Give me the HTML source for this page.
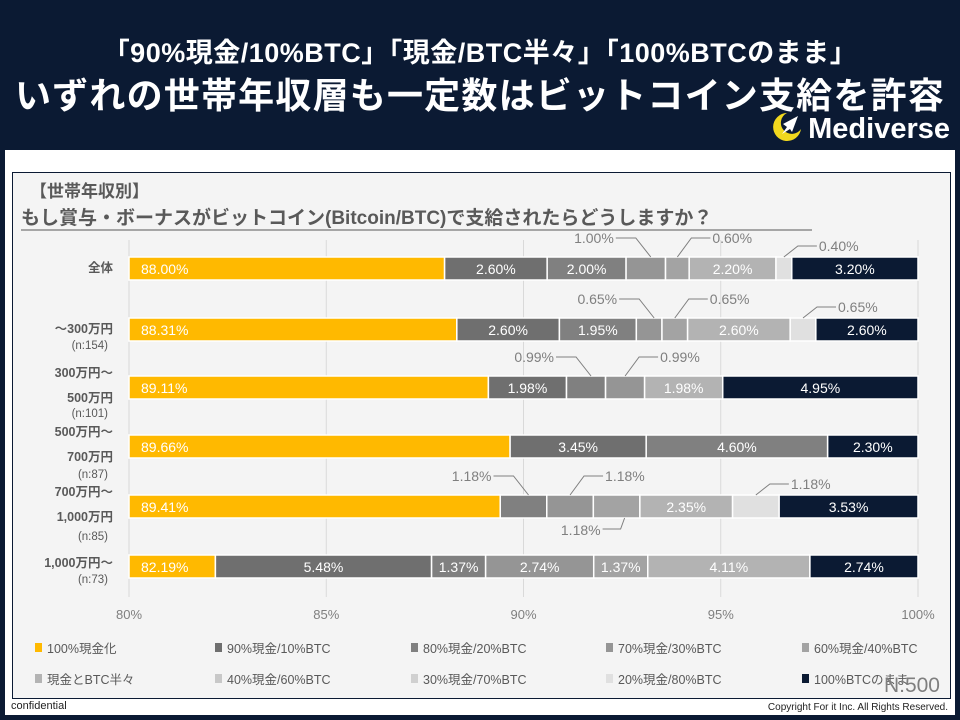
<!DOCTYPE html>
<html><head><meta charset="utf-8">
<style>
*{margin:0;padding:0;box-sizing:border-box}
body{width:960px;height:720px;overflow:hidden;background:#fff;font-family:"Liberation Sans","Noto Sans CJK JP",sans-serif;position:relative}
#frame{position:absolute;left:0;top:0;width:960px;height:720px;border:5px solid #0b1a33;border-top:none}
#header{position:absolute;left:0;top:0;width:960px;height:150px;background:#0b1a33;color:#fff;text-align:center}
#t1{position:absolute;left:0;width:960px;top:31px;font-size:27px;font-weight:bold;letter-spacing:0.5px}
#t2{position:absolute;left:0;width:960px;top:67px;font-size:36px;font-weight:bold;letter-spacing:1.2px}
#logo{position:absolute;right:10px;top:110px;font-size:29px;font-weight:bold;color:#fff}
#panel{position:absolute;left:12px;top:172px;width:939px;height:527px;background:#f4f4f4;border:1.5px solid #0b1a33}
svg{position:absolute;left:0;top:0}
.foot{position:absolute;top:700px;font-size:11px;color:#222}
</style></head><body>
<div id="frame"></div>
<div id="header">
  <div id="t1">「90%現金/10%BTC」「現金/BTC半々」「100%BTCのまま」</div>
  <div id="t2">いずれの世帯年収層も一定数はビットコイン支給を許容</div>
  <div id="logo"><svg width="34" height="34" viewBox="0 0 34 34" style="position:relative;vertical-align:-6px;margin-right:4px"><path d="M17 3 A14 14 0 1 0 31 19 A11 11 0 1 1 17 3Z" fill="#f1d81e"/><path d="M28 6 L13 14 L17 17 L12 24 L20 19 L22 22Z" fill="#fff"/></svg>Mediverse</div>
</div>
<div id="panel"></div>
<svg id="chart" width="960" height="720"></svg>
<div class="foot" style="left:11px">confidential</div>
<div class="foot" style="right:12px;font-size:10px;top:702px">Copyright For it Inc. All Rights Reserved.</div>
<script>
const seriesNames=["100%現金化","90%現金/10%BTC","80%現金/20%BTC","70%現金/30%BTC","60%現金/40%BTC","現金とBTC半々","40%現金/60%BTC","30%現金/70%BTC","20%現金/80%BTC","100%BTCのまま"];
const rowAll=[88.00,2.60,2.00,1.00,0.60,2.20,0,0,0.40,3.20];
const row300=[88.31,2.60,1.95,0.65,0.65,2.60,0,0,0.65,2.60];
const row500=[89.11,1.98,0.99,0.99,0,1.98,0,0,0,4.95];
const row700=[89.66,3.45,4.60,0,0,0,0,0,0,2.30];
const row1000=[89.41,0,1.18,1.18,1.18,2.35,0,0,1.18,3.53];
const rowTop=[82.19,5.48,1.37,2.74,1.37,4.11,0,0,0,2.74];
const ticks=[80,85,90,95,100];
const rows=[rowAll,row300,row500,row700,row1000,rowTop];
const colors=["#ffb900","#6f6f6f","#808080","#959595","#a3a3a3","#b3b3b3","#c8c8c8","#d0d0d0","#e0e0e0","#0b1a33"];
const rowY=[257,318,376,435,495,555];
const barH=23;
// callout layout: [row, series, side, dy]
const callouts=[[0,3,'L',0],[0,4,'R',0],[0,8,'R',8],[1,3,'L',0],[1,4,'R',0],[1,8,'R',8],[2,2,'L',0],[2,3,'R',0],[4,2,'L',0],[4,3,'R',0],[4,4,'D',0],[4,8,'R',8]];
const rowLabels=[[["全体",268,1]],[["～300万円",329,1],["(n:154)",345,0]],[["300万円～",373,1],["500万円",398,1],["(n:101)",413,0]],[["500万円～",432,1],["700万円",457,1],["(n:87)",474,0]],[["700万円～",492,1],["1,000万円",517,1],["(n:85)",536,0]],[["1,000万円～",563,1],["(n:73)",579,0]]];
const svg=document.getElementById('chart');const NS="http://www.w3.org/2000/svg";
const X0=129,X1=918,XMIN=80,XMAX=100;
function xs(v){v=Math.max(XMIN,Math.min(XMAX,v));return X0+(v-XMIN)/(XMAX-XMIN)*(X1-X0);}
function mk(t,a,p){const e=document.createElementNS(NS,t);for(const k in a)e.setAttribute(k,a[k]);(p||svg).appendChild(e);return e;}
let e;
e=mk('text',{x:30,y:197,'font-size':17,'font-weight':'bold',fill:'#595959'});e.textContent="【世帯年収別】";


e=mk('text',{x:21,y:224,'font-size':19,'font-weight':'bold',fill:'#595959'});e.textContent="もし賞与・ボーナスがビットコイン(Bitcoin/BTC)で支給されたらどうしますか？";


mk('line',{x1:21,x2:812,y1:230,y2:230,stroke:'#595959','stroke-width':1});
ticks.forEach(t=>{const l=mk('line',{x1:xs(t),x2:xs(t),y1:240,y2:597,stroke:'#d9d9d9','stroke-width':1});


const tx=mk('text',{x:xs(t),y:619,'font-size':13,fill:'#7f7f7f','text-anchor':'middle'});tx.textContent=t+"%";

});
rows.forEach((r,i)=>{let cum=0;const y=rowY[i];r.forEach((v,s)=>{if(v<=0)return;const a=xs(cum),b=xs(cum+v);cum+=v;
const rc=mk('rect',{x:a,y:y,width:b-a,height:barH,fill:colors[s],stroke:'#fff','stroke-width':1.5});


if(b-a>50){const t=mk('text',{x:s==0?a+12:(a+b)/2,y:y+17,'font-size':14,fill:'#fff','text-anchor':s==0?'start':'middle'});t.textContent=v.toFixed(2)+"%";

}
});});
callouts.forEach(c=>{const r=rows[c[0]];let cum=0;for(let s=0;s<c[1];s++)cum+=r[s];const v=r[c[1]];const cx=(xs(cum)+xs(cum+v))/2;const top=rowY[c[0]];let pts,tx,ty,anc;
if(c[2]=='L'){pts=[[cx+5,top],[cx-10,top-19],[cx-30,top-19]];tx=cx-32;ty=top-14;anc='end';}
else if(c[2]=='R'){const h=19-c[3];pts=[[cx,top],[cx+14,top-h],[cx+33,top-h]];tx=cx+35;ty=top-h+5;anc='start';}
else{pts=[[cx+8,top+barH],[cx+4,top+barH+11],[cx-14,top+barH+11]];tx=cx-16;ty=top+barH+17;anc='end';}
mk('polyline',{points:pts.map(p=>p.join(',')).join(' '),fill:'none',stroke:'#7f7f7f','stroke-width':1});
const t=mk('text',{x:tx,y:ty,'font-size':14,fill:'#7f7f7f','text-anchor':anc});t.textContent=v.toFixed(2)+"%";

});
rowLabels.forEach(lines=>lines.forEach(l=>{const t=mk('text',{x:l[2]?113:108,y:l[1]+4,'font-size':l[2]?12.5:11.5,'font-weight':l[2]?'bold':'normal',fill:'#595959','text-anchor':'end'});t.textContent=l[0];

}));
const legX=[35,215,411,606,802],legY=[648,679];
seriesNames.forEach((n,i)=>{const x=legX[i%5],y=legY[Math.floor(i/5)];
const m=mk('rect',{x:x,y:y-5,width:7,height:9,fill:colors[i]});


const t=mk('text',{x:x+12,y:y+5,'font-size':12.5,fill:'#595959'});t.textContent=n;

});
e=mk('text',{x:940,y:692,'font-size':21,fill:'#7f7f7f','text-anchor':'end'});e.textContent="N:500";


</script>
</body></html>
